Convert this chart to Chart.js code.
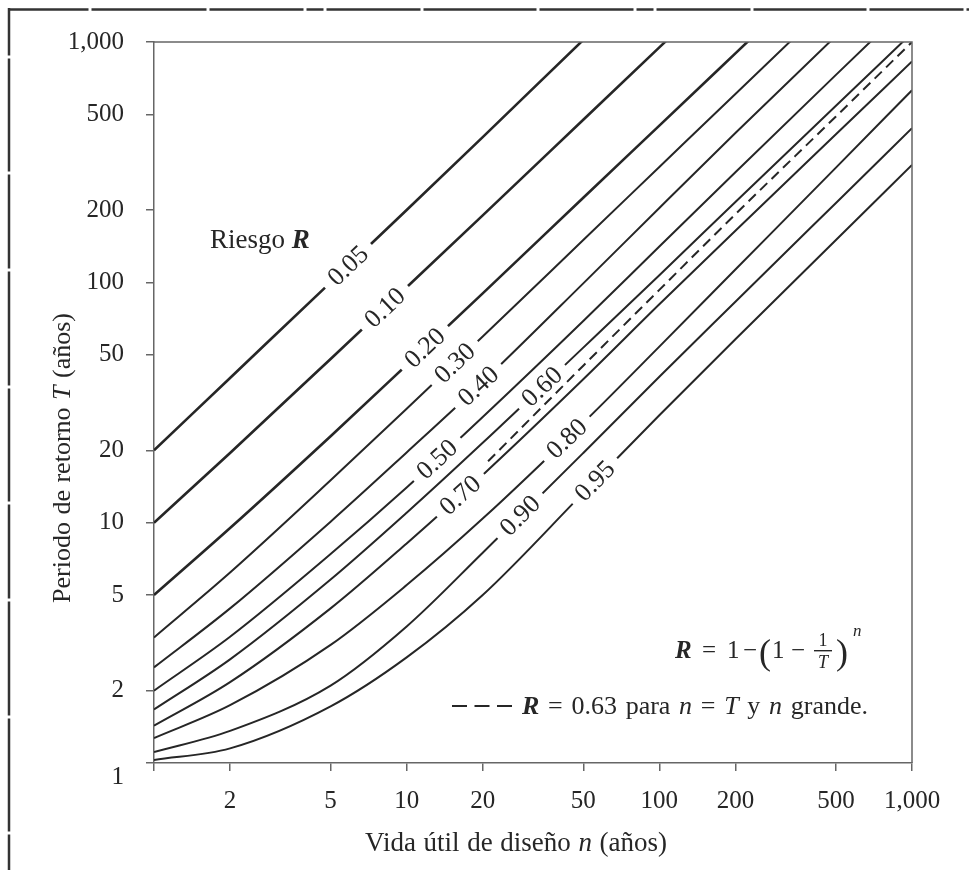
<!DOCTYPE html>
<html>
<head>
<meta charset="utf-8">
<script src="https://cdn.jsdelivr.net/npm/chart.js@4"></script>
<style>
  html, body { margin: 0; padding: 0; background: #fff; }
</style>
</head>
<body>
<canvas id="chart" width="969" height="870"></canvas>
<script>
// design life n (years) where the curves were read
var nValues = [1, 2, 5, 10, 20, 50, 100, 200, 500, 1000];
var riskLabels = ["0.05", "0.10", "0.20", "0.30", "0.40", "0.50", "0.60", "0.70", "0.80", "0.90", "0.95"];

// return period T (years) at nValues
var T_005 = [20, 40, 100, 200, 402, 1020, 2040];
var T_010 = [10, 19.5, 48, 95.4, 190, 475, 950, 1900];
var T_020 = [5, 9.5, 22.9, 45.3, 90, 225, 449, 897, 2240];
var T_030 = [3.33, 6.2, 15.0, 29.8, 59.5, 150, 302, 608, 1530];
var T_040 = [2.5, 4.4, 10.1, 19.6, 38.5, 99, 204, 418, 1060, 2120];
var T_050 = [2, 3.35, 7.4, 14.0, 27.5, 69, 141, 287, 730, 1470];
var T_060 = [1.67, 2.7, 5.8, 11.0, 21.5, 53.5, 107, 216, 543, 1090];
var T_070 = [1.43, 2.17, 4.4, 8.2, 15.8, 39.5, 81, 164, 413, 830];
var T_080 = [1.27, 1.74, 3.1, 5.5, 10.4, 26, 54, 113, 300, 630];
var T_090 = [1.11, 1.36, 2.1, 3.7, 7.5, 19.5, 40.5, 83, 214, 438];
var T_095 = [1.03, 1.15, 1.72, 2.75, 5.0, 13.3, 28, 58, 150, 308];
var seriesT = [T_005, T_010, T_020, T_030, T_040, T_050, T_060, T_070, T_080, T_090, T_095];

// dashed R = 0.63 line
var dashedN = [21, 50, 100, 200, 500, 1000];
var dashedT = [18, 45, 93, 192, 490, 1000];

// where along n each risk label sits on its curve
var labelN = [5.86, 8.2, 11.8, 15.5, 19.2, 13.2, 34.3, 16.3, 43, 28.1, 55.6];

var axisTicks = [1, 2, 5, 10, 20, 50, 100, 200, 500, 1000];

var serif = '"Liberation Serif", "Times New Roman", serif';
var ink = "#262626";
var axisGray = "#666";

function fmt(v) {
    return v >= 1000 ? v.toLocaleString("en-US") : String(v);
}

// draws runs of text with different fonts; spaces stretched when a width is given
function drawRuns(ctx, runs, x, y, width) {
    var parts = [];
    runs.forEach(function (r) {
        r[0].split(/( )/).forEach(function (p) { if (p) parts.push([p, r[1]]); });
    });
    var natural = 0, spaces = 0;
    parts.forEach(function (p) {
        ctx.font = p[1];
        natural += ctx.measureText(p[0]).width;
        if (p[0] === " ") spaces++;
    });
    var extra = width && spaces ? (width - natural) / spaces : 0;
    var cx = x;
    parts.forEach(function (p) {
        ctx.font = p[1];
        if (p[0] !== " ") ctx.fillText(p[0], cx, y);
        cx += ctx.measureText(p[0]).width + (p[0] === " " ? extra : 0);
    });
}

var curveLabels = {
    id: "curveLabels",
    afterDatasetsDraw: function (chart) {
        var ctx = chart.ctx, xs = chart.scales.x, ys = chart.scales.y;
        ctx.save();
        ctx.font = "26px " + serif;
        ctx.textAlign = "center";
        ctx.textBaseline = "middle";
        seriesT.forEach(function (ts, i) {
            var n = labelN[i], k = 0;
            while (k < ts.length - 2 && nValues[k + 1] < n) k++;
            var x1 = xs.getPixelForValue(nValues[k]), y1 = ys.getPixelForValue(ts[k]);
            var x2 = xs.getPixelForValue(nValues[k + 1]), y2 = ys.getPixelForValue(ts[k + 1]);
            var px = xs.getPixelForValue(n);
            var py = y1 + (px - x1) / (x2 - x1) * (y2 - y1);
            var w = ctx.measureText(riskLabels[i]).width;
            ctx.save();
            ctx.translate(px, py);
            ctx.rotate(Math.atan2(y2 - y1, x2 - x1));
            ctx.fillStyle = "#fff";
            ctx.fillRect(-w / 2 - 9, -10, w + 18, 20);
            ctx.fillStyle = ink;
            ctx.fillText(riskLabels[i], 0, 1);
            ctx.restore();
        });
        ctx.restore();
    },
    afterDraw: function (chart) {
        var ctx = chart.ctx, a = chart.chartArea;
        ctx.save();

        // top and right side of the plot box
        ctx.strokeStyle = axisGray;
        ctx.lineWidth = 1.5;
        ctx.beginPath();
        ctx.moveTo(a.left, a.top);
        ctx.lineTo(a.right, a.top);
        ctx.lineTo(a.right, a.bottom);
        ctx.stroke();

        // page frame of the scan
        ctx.strokeStyle = "#333";
        ctx.lineWidth = 2.5;
        var topGaps = [90, 208, 305, 325, 422, 538, 635, 655, 752, 868, 965];
        var leftGaps = [57, 173, 270, 387, 503, 600, 717, 833];
        var last = 8;
        ctx.beginPath();
        topGaps.forEach(function (g) { ctx.moveTo(last, 9.5); ctx.lineTo(g - 1.5, 9.5); last = g + 1.5; });
        ctx.moveTo(last, 9.5); ctx.lineTo(969, 9.5);
        last = 8;
        leftGaps.forEach(function (g) { ctx.moveTo(9, last); ctx.lineTo(9, g - 1.5); last = g + 1.5; });
        ctx.moveTo(9, last); ctx.lineTo(9, 870);
        ctx.stroke();

        ctx.fillStyle = ink;
        ctx.textBaseline = "alphabetic";

        // y tick "1" sits a little below the corner
        ctx.textAlign = "right";
        ctx.font = "25px " + serif;
        ctx.fillText("1", 124, 784);
        ctx.textAlign = "left";

        // axis titles
        drawRuns(ctx, [["Vida útil de diseño ", "27px " + serif], ["n", "italic 27px " + serif], [" (años)", "27px " + serif]], 365, 851, 302);
        ctx.save();
        ctx.translate(70, 603);
        ctx.rotate(-Math.PI / 2);
        drawRuns(ctx, [["Periodo de retorno ", "26px " + serif], ["T", "italic 26px " + serif], [" (años)", "26px " + serif]], 0, 0, 290);
        ctx.restore();

        drawRuns(ctx, [["Riesgo ", "27px " + serif], ["R", "italic bold 27px " + serif]], 210, 248);

        // R = 1 - (1 - 1/T)^n
        var f = "25px " + serif, big = "36px " + serif, fr = "18px " + serif;
        var base = 658;
        ctx.font = "italic bold 25px " + serif; ctx.fillText("R", 675, base);
        ctx.font = f;
        ctx.fillText("=", 702, base);
        ctx.fillText("1", 727, base);
        ctx.fillText("\u2212", 743, base);
        ctx.font = big; ctx.fillText("(", 759, base + 6);
        ctx.font = f;
        ctx.fillText("1", 772, base);
        ctx.fillText("\u2212", 791, base);
        ctx.textAlign = "center";
        ctx.font = fr; ctx.fillText("1", 823, base - 12);
        ctx.font = "italic " + fr; ctx.fillText("T", 823, base + 10);
        ctx.textAlign = "left";
        ctx.fillRect(814, base - 8, 18, 1.4);
        ctx.font = big; ctx.fillText(")", 836, base + 6);
        ctx.font = "italic 17px " + serif; ctx.fillText("n", 853, base - 22);

        // dashed legend line
        ctx.strokeStyle = ink;
        ctx.lineWidth = 2.2;
        ctx.setLineDash([15, 7.5]);
        ctx.beginPath();
        ctx.moveTo(452, 706);
        ctx.lineTo(512, 706);
        ctx.stroke();
        ctx.setLineDash([]);
        drawRuns(ctx, [
            ["R", "italic bold 26px " + serif], [" = 0.63 para ", "26px " + serif], ["n", "italic 26px " + serif],
            [" = ", "26px " + serif], ["T", "italic 26px " + serif], [" y ", "26px " + serif],
            ["n", "italic 26px " + serif], [" grande.", "26px " + serif]
        ], 522, 714, 346);

        ctx.restore();
    }
};

var datasets = seriesT.map(function (ts, i) {
    return {
        label: "R = " + riskLabels[i],
        data: ts.map(function (t, k) { return { x: nValues[k], y: t }; }),
        borderColor: ink,
        borderWidth: i < 3 ? 2.6 : 2,
        fill: false
    };
});
datasets.push({
    label: "R = 0.63",
    data: dashedN.map(function (n, k) { return { x: n, y: dashedT[k] }; }),
    borderColor: ink,
    borderWidth: 2,
    borderDash: [10, 6],
    fill: false
});

function axisOptions(isX) {
    return {
        type: "logarithmic",
        min: 1,
        max: 1000,
        afterBuildTicks: function (scale) {
            scale.ticks = axisTicks.map(function (v) { return { value: v }; });
        },
        afterFit: function (scale) {
            if (isX) scale.height = 107; else scale.width = 154;
        },
        ticks: {
            autoSkip: false,
            maxRotation: 0,
            minRotation: 0,
            padding: isX ? 15 : 22,
            color: ink,
            font: { family: serif, size: 25 },
            callback: function (v) { return v === 1 ? "" : fmt(v); }
        },
        grid: { drawOnChartArea: false, tickLength: 8, color: axisGray, lineWidth: 1.5 },
        border: { color: axisGray, width: 1.5 }
    };
}

new Chart(document.getElementById("chart").getContext("2d"), {
    type: "line",
    data: { datasets: datasets },
    options: {
        responsive: false,
        animation: false,
        devicePixelRatio: 1,
        layout: { padding: { top: 42, right: 57, left: 0, bottom: 0 } },
        elements: {
            point: { radius: 0 },
            line: { cubicInterpolationMode: "monotone" }
        },
        plugins: {
            legend: { display: false },
            tooltip: { enabled: false }
        },
        scales: {
            x: axisOptions(true),
            y: axisOptions(false)
        }
    },
    plugins: [curveLabels]
});
</script>
</body>
</html>
